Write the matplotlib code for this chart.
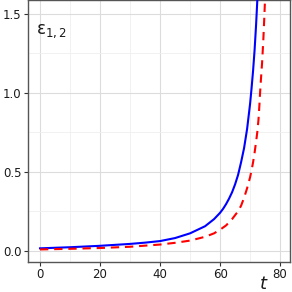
import matplotlib
matplotlib.use("Agg")
import matplotlib.pyplot as plt
from matplotlib.ticker import MultipleLocator

# Data
t_blue = [0, 10, 20, 30, 35, 40, 45, 50, 55, 58, 60, 61, 62, 63, 64, 65, 66, 67, 68, 69, 70, 70.5, 71, 71.5, 72, 72.5]
eps_blue = [0.015, 0.022, 0.031, 0.043, 0.051, 0.061, 0.08, 0.11, 0.155, 0.20, 0.24, 0.265, 0.295, 0.33, 0.37, 0.42, 0.48, 0.56, 0.65, 0.77, 0.93, 1.03, 1.14, 1.27, 1.43, 1.62]

t_red = [0, 10, 20, 30, 40, 45, 50, 55, 58, 60, 62, 64, 66, 67, 68, 69, 70, 70.5, 71, 71.5, 72, 72.4, 72.8, 73.1, 73.3, 73.6, 74, 74.4, 74.7, 75]
eps_red = [0.008, 0.012, 0.017, 0.025, 0.039, 0.05, 0.064, 0.088, 0.11, 0.133, 0.16, 0.20, 0.25, 0.285, 0.335, 0.395, 0.465, 0.51, 0.56, 0.62, 0.69, 0.75, 0.83, 0.92, 0.99, 1.08, 1.19, 1.33, 1.46, 1.6]

x_major = [0, 20, 40, 60, 80]
y_major = [0.0, 0.5, 1.0, 1.5]
y_labels = ["0.0", "0.5", "1.0", "1.5"]

fig = plt.figure(figsize=(2.92, 2.92), dpi=100)
ax = fig.add_axes([28/292, 30/292, 262/292, 262/292])

ax.plot(t_blue, eps_blue, color="#0000ff", lw=1.5, solid_joinstyle="round", zorder=3)
ax.plot(t_red, eps_red, color="#ff0000", lw=1.5, ls=(0, (4, 2.8)), zorder=3)

ax.set_xlim(-4, 83.3)
ax.set_ylim(-0.0715, 1.587)

ax.set_xticks(x_major)
ax.set_xticklabels([str(v) for v in x_major])
ax.set_yticks(y_major)
ax.set_yticklabels(y_labels)
ax.xaxis.set_minor_locator(MultipleLocator(10))
ax.yaxis.set_minor_locator(MultipleLocator(0.25))

ax.grid(which="major", color="#dcdcdc", lw=0.8)
ax.grid(which="minor", color="#efefef", lw=0.6)
ax.set_axisbelow(True)

for s in ax.spines.values():
    s.set_color("#555555")
    s.set_linewidth(1.0)

ax.tick_params(which="major", length=3, width=0.8, color="#333333",
               labelsize=8.5, labelcolor="#1a1a1a", pad=1.5)
ax.tick_params(which="minor", length=0)

ax.text(0.03, 0.88, r"$\mathregular{\varepsilon_{1,2}}$", transform=ax.transAxes,
        fontsize=12, color="#1a1a1a", ha="left", va="center")

fig.text(263/292, 1 - 284/292, "t", fontsize=13, style="italic",
         ha="center", va="center", color="#1a1a1a")

fig.savefig("out.png", dpi=100)
